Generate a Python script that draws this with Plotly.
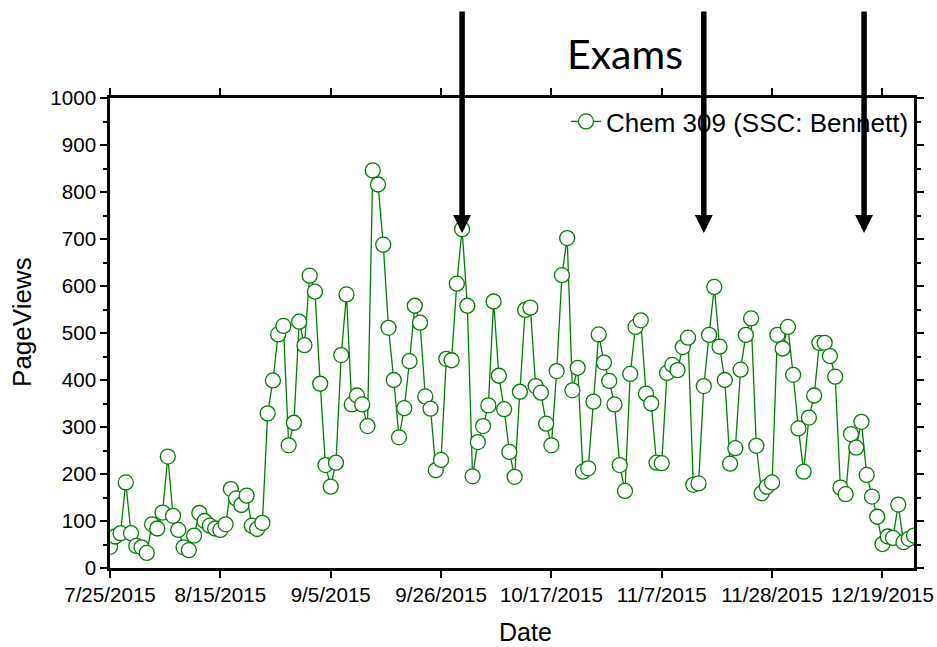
import plotly.graph_objects as go
import pandas as pd

start_date = "2015-07-25"
page_views = [45, 67, 74, 182, 74, 47, 44, 32, 93, 84,
              118, 237, 111, 81, 44, 38, 69, 117, 100, 90,
              84, 81, 93, 168, 148, 134, 154, 90, 83, 96,
              329, 399, 497, 515, 261, 309, 524, 474, 622, 588,
              392, 219, 173, 224, 453, 582, 348, 367, 348, 302,
              846, 816, 688, 511, 400, 278, 340, 440, 558, 522,
              365, 339, 208, 230, 445, 442, 605, 721, 558, 195,
              268, 302, 346, 567, 409, 338, 247, 194, 375, 549,
              554, 387, 373, 307, 261, 419, 623, 702, 378, 426,
              205, 212, 354, 497, 437, 398, 348, 219, 164, 413,
              513, 527, 371, 350, 224, 223, 415, 432, 421, 470,
              490, 177, 180, 387, 496, 598, 471, 400, 222, 255,
              422, 496, 531, 260, 159, 173, 182, 496, 467, 513,
              411, 297, 205, 320, 367, 479, 479, 451, 407, 171,
              157, 285, 256, 311, 198, 152, 109, 51, 67, 64,
              135, 55, 62, 69]
dates = pd.date_range(start_date, periods=len(page_views), freq="D")

tick_dates = ["2015-07-25", "2015-08-15", "2015-09-05", "2015-09-26",
              "2015-10-17", "2015-11-07", "2015-11-28", "2015-12-19"]
tick_labels = ["7/25/2015", "8/15/2015", "9/5/2015", "9/26/2015",
               "10/17/2015", "11/7/2015", "11/28/2015", "12/19/2015"]
y_ticks = list(range(0, 1001, 100))

exam_dates = ["2015-09-30", "2015-11-15", "2015-12-15 12:00"]
exam_tip_value = 713

series_name = "Chem 309 (SSC: Bennett)"
green = "#008000"
font_main = "Liberation Sans, Arial, sans-serif"

fig = go.Figure()
fig.add_trace(go.Scatter(
    x=dates, y=page_views, mode="lines+markers", name=series_name,
    line=dict(color=green, width=1.3),
    marker=dict(symbol="circle", size=15, color="white", line=dict(width=1.3, color=green)),
    cliponaxis=True,
))

for d in exam_dates:
    fig.add_annotation(
        x=d, y=exam_tip_value, xref="x", yref="y",
        ax=0, ay=-223, showarrow=True,
        arrowhead=2, arrowsize=0.65, arrowwidth=5.5, arrowcolor="black", text="",
    )

fig.add_annotation(
    x=0.6405, y=1.0957, xref="paper", yref="paper", text="Exams", showarrow=False,
    xanchor="center", yanchor="middle",
    font=dict(family="Lato, Open Sans, sans-serif", size=41, color="black"),
)
# axis titles
fig.add_annotation(
    x=-0.1095, y=0.5234, xref="paper", yref="paper", text="PageViews", showarrow=False,
    textangle=-90, xanchor="center", yanchor="middle",
    font=dict(family=font_main, size=26, color="black"),
)
fig.add_annotation(
    x=0.5168, y=-0.1370, xref="paper", yref="paper", text="Date", showarrow=False,
    xanchor="center", yanchor="middle",
    font=dict(family=font_main, size=25, color="black"),
)

fig.update_layout(
    width=937, height=647,
    margin=dict(l=110, r=23, t=98, b=79),
    paper_bgcolor="white", plot_bgcolor="white",
    font=dict(family=font_main, size=20.6, color="black"),
    showlegend=True,
    legend=dict(x=1, xanchor="right", y=1, yanchor="top",
                bgcolor="rgba(0,0,0,0)", font=dict(size=26, family=font_main)),
)

fig.update_xaxes(
    type="date", range=[dates[0], dates[-1]], automargin=False,
    tickvals=tick_dates, ticktext=tick_labels,
    ticks="outside", ticklen=7, tickwidth=2, tickcolor="black",
    showline=True, linewidth=2.5, linecolor="black", mirror="ticks",
    showgrid=False, zeroline=False,
)
fig.update_yaxes(
    range=[0, 1000], tickvals=y_ticks, automargin=False,
    ticks="outside", ticklen=7, tickwidth=2, tickcolor="black",
    minor=dict(dtick=50, ticks="outside", ticklen=4, tickwidth=2, tickcolor="black"),
    showline=True, linewidth=2.5, linecolor="black", mirror="ticks",
    showgrid=False, zeroline=False,
)

fig.write_html("out.html", config={"displayModeBar": False},
               post_script="document.body.style.margin='0px';")
